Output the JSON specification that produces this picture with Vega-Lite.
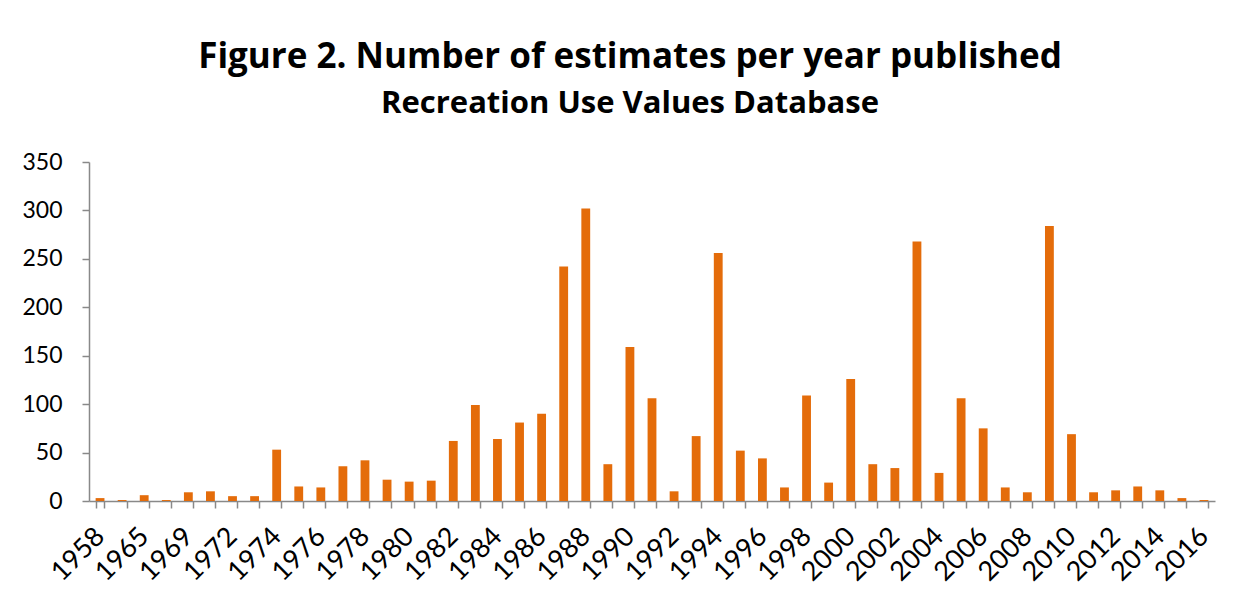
{
  "$schema": "https://vega.github.io/schema/vega-lite/v6.json",
  "autosize": "none",
  "width": 1126,
  "height": 339,
  "padding": {"left": 89, "top": 162, "right": 38, "bottom": 90},
  "background": "white",
  "title": {
    "text": "Figure 2. Number of estimates per year published",
    "subtitle": "Recreation Use Values Database",
    "anchor": "middle",
    "frame": "group",
    "dx": -22,
    "font": "Open Sans",
    "fontSize": 35,
    "fontWeight": "bold",
    "color": "#000000",
    "subtitleFont": "Open Sans",
    "subtitleFontSize": 31,
    "subtitleFontWeight": "bold",
    "subtitleColor": "#000000",
    "subtitlePadding": 14,
    "offset": 32
  },
  "config": {
    "view": {"stroke": null},
    "axis": {"labelFont": "Lato", "labelColor": "#000000", "domainColor": "#898989", "tickColor": "#898989", "domainWidth": 1.5, "tickWidth": 1.5, "tickSize": 7, "grid": false, "title": null}
  },
  "data": {"values": [
    {"year": "1958", "count": 3}, {"year": "1963", "count": 1}, {"year": "1965", "count": 6},
    {"year": "1967", "count": 1}, {"year": "1969", "count": 9}, {"year": "1970", "count": 10},
    {"year": "1972", "count": 5}, {"year": "1973", "count": 5}, {"year": "1974", "count": 53},
    {"year": "1975", "count": 15}, {"year": "1976", "count": 14}, {"year": "1977", "count": 36},
    {"year": "1978", "count": 42}, {"year": "1979", "count": 22}, {"year": "1980", "count": 20},
    {"year": "1981", "count": 21}, {"year": "1982", "count": 62}, {"year": "1983", "count": 99},
    {"year": "1984", "count": 64}, {"year": "1985", "count": 81}, {"year": "1986", "count": 90},
    {"year": "1987", "count": 242}, {"year": "1988", "count": 302}, {"year": "1989", "count": 38},
    {"year": "1990", "count": 159}, {"year": "1991", "count": 106}, {"year": "1992", "count": 10},
    {"year": "1993", "count": 67}, {"year": "1994", "count": 256}, {"year": "1995", "count": 52},
    {"year": "1996", "count": 44}, {"year": "1997", "count": 14}, {"year": "1998", "count": 109},
    {"year": "1999", "count": 19}, {"year": "2000", "count": 126}, {"year": "2001", "count": 38},
    {"year": "2002", "count": 34}, {"year": "2003", "count": 268}, {"year": "2004", "count": 29},
    {"year": "2005", "count": 106}, {"year": "2006", "count": 75}, {"year": "2007", "count": 14},
    {"year": "2008", "count": 9}, {"year": "2009", "count": 284}, {"year": "2010", "count": 69},
    {"year": "2011", "count": 9}, {"year": "2012", "count": 11}, {"year": "2013", "count": 15},
    {"year": "2014", "count": 11}, {"year": "2015", "count": 3}, {"year": "2016", "count": 1}
  ]},
  "mark": {"type": "bar", "color": "#E46C0A"},
  "encoding": {
    "x": {
      "field": "year", "type": "ordinal", "sort": null,
      "scale": {"paddingInner": 0.6, "paddingOuter": 0.3},
      "axis": {
        "tickBand": "extent",
        "labelFontSize": 27,
        "labelAngle": -45, "labelAlign": "right", "labelBaseline": "middle",
        "labelPadding": 24, "labelOverlap": false,
        "labelExpr": "indexof(['1958','1965','1969','1972'], datum.label) >= 0 || (toNumber(datum.label) >= 1974 && toNumber(datum.label) % 2 == 0) ? datum.label : ''"
      }
    },
    "y": {
      "field": "count", "type": "quantitative",
      "scale": {"domain": [0, 350], "nice": false},
      "axis": {"values": [0, 50, 100, 150, 200, 250, 300, 350], "labelFontSize": 23, "labelPadding": 20}
    }
  }
}
